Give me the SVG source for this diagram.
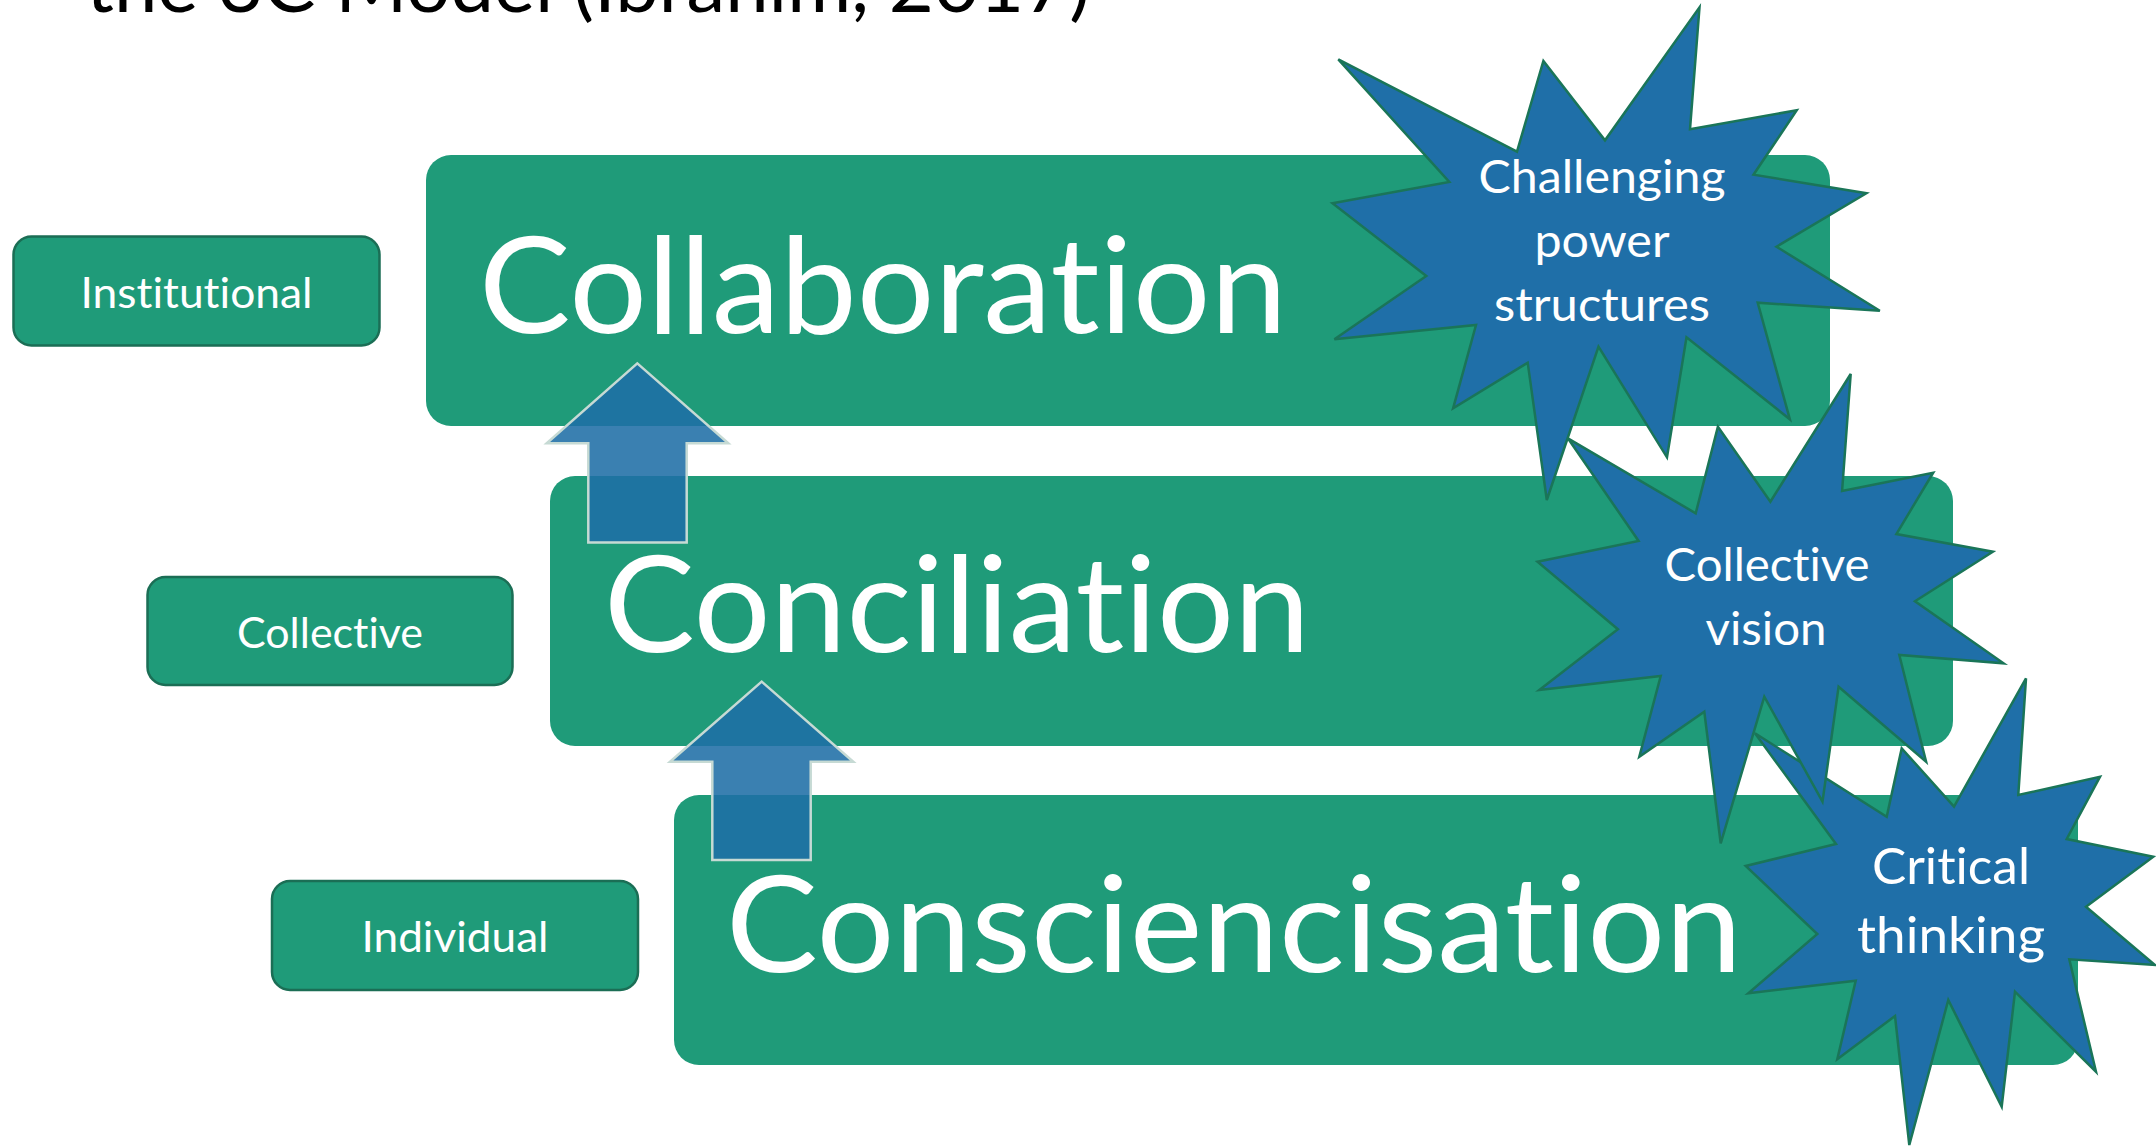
<svg xmlns="http://www.w3.org/2000/svg" width="2156" height="1146" viewBox="0 0 2156 1146">
<style>
.bg{fill:#ffffff}
.lvl{fill:#1f9b79}
.tag{fill:#1f9b79;stroke:#1b6e55;stroke-width:2.5}
.star{fill:#1f6fa8;stroke:#1a7558;stroke-width:2.5;stroke-linejoin:miter}
.arr{fill:#1f6ea6;fill-opacity:0.88;stroke:#c6dad4;stroke-width:2.5}
text{font-variant-ligatures:none;font-feature-settings:"liga" 0,"clig" 0,"dlig" 0}
.t{font-family:Lato,"Open Sans","Liberation Sans",sans-serif;fill:#ffffff}
.big{font-size:133px}
.sm{font-size:42px;text-anchor:middle}
.st{font-size:46px;text-anchor:middle}
.st3{font-size:50px;text-anchor:middle}
.title{font-family:Lato,"Open Sans","Liberation Sans",sans-serif;font-size:76px;font-weight:400;fill:#000000}
</style>
<rect class="bg" x="0" y="0" width="2156" height="1146"/>
<text class="title" x="86" y="12" textLength="1004" lengthAdjust="spacingAndGlyphs">the 3C Model (Ibrahim, 2017)</text>

<g id="level-collaboration">
<rect class="lvl" x="426" y="155" width="1404" height="271" rx="25" ry="25"/>
<text class="t big" x="479" y="333" textLength="808" lengthAdjust="spacingAndGlyphs">Collaboration</text>
</g>
<g id="level-conciliation">
<rect class="lvl" x="550" y="476" width="1403" height="270" rx="25" ry="25"/>
<text class="t big" x="604" y="652" textLength="706" lengthAdjust="spacingAndGlyphs">Conciliation</text>
</g>
<g id="level-conscientisation">
<rect class="lvl" x="674" y="795" width="1404" height="270" rx="25" ry="25"/>
<text class="t big" x="726" y="972" textLength="1016" lengthAdjust="spacingAndGlyphs">Consciencisation</text>
</g>

<g id="tag-institutional">
<rect class="tag" x="13.5" y="236.5" width="366" height="109" rx="18" ry="18"/>
<text class="t sm" x="196.5" y="308" textLength="232" lengthAdjust="spacingAndGlyphs">Institutional</text>
</g>
<g id="tag-collective">
<rect class="tag" x="147.5" y="577" width="365" height="108" rx="18" ry="18"/>
<text class="t sm" x="330" y="648" textLength="186" lengthAdjust="spacingAndGlyphs">Collective</text>
</g>
<g id="tag-individual">
<rect class="tag" x="272" y="881" width="366" height="109" rx="18" ry="18"/>
<text class="t sm" x="455" y="951.5" textLength="187" lengthAdjust="spacingAndGlyphs">Individual</text>
</g>

<g id="star-critical-thinking">
<polygon class="star" points="1755,733.3 1886.7,816.7 1901.7,748.3 1954,806.7 2026,678.3 2018.3,795 2100,776.7 2066.7,839 2153.3,856.7 2086,906.7 2155,965 2069.3,959.3 2096,1071.7 2015,991.7 2001.7,1106.7 1948.3,1000 1909.3,1145 1895,1016 1837.3,1059.3 1855.7,980.7 1748.3,993.3 1817.3,934 1745.7,866 1836,844"/>
<text class="t st3" x="1951" y="884" textLength="158" lengthAdjust="spacingAndGlyphs">Critical</text>
<text class="t st3" x="1951" y="953" textLength="188" lengthAdjust="spacingAndGlyphs">thinking</text>
</g>
<g id="star-collective-vision">
<polygon class="star" points="1567.9,438.3 1695.7,513.3 1717.9,426.7 1770.4,501.7 1850.7,374 1842.1,491 1933.2,472.7 1896.4,534 1992.9,551.7 1915,601.3 2003.6,663.3 1899.3,655 1926.1,761.7 1838.6,686.7 1822.5,801.7 1764.3,696.7 1720.7,843.3 1704.3,711.7 1639.3,756.7 1660.7,676 1539.3,690 1617.9,629.3 1537.5,561.7 1638.6,541"/>
<text class="t st" x="1767" y="580.5" textLength="205" lengthAdjust="spacingAndGlyphs">Collective</text>
<text class="t st" x="1766" y="645" textLength="121" lengthAdjust="spacingAndGlyphs">vision</text>
</g>
<g id="star-challenging">
<polygon class="star" points="1338.3,59.3 1517,151.7 1543.4,61 1605,140.3 1699.5,7.3 1690,129.3 1796.7,110.3 1753.5,174.7 1866.4,193.3 1776.5,246.7 1879.8,310.7 1757.7,302.7 1789.9,419.3 1686.5,337.3 1667,457.3 1598.5,346.7 1546.8,500 1527.7,362.7 1453.1,408.3 1476,325 1334.4,339.3 1426.3,276 1332.5,203.3 1449.3,182"/>
<text class="t st" x="1602" y="192.5" textLength="247" lengthAdjust="spacingAndGlyphs">Challenging</text>
<text class="t st" x="1602" y="256.5" textLength="135" lengthAdjust="spacingAndGlyphs">power</text>
<text class="t st" x="1602" y="320.5" textLength="216" lengthAdjust="spacingAndGlyphs">structures</text>
</g>

<g id="connectors">
<polygon class="arr" points="637.3,363.4 728.3,443.3 686.7,443.3 686.7,542.5 588.3,542.5 588.3,443.3 546.7,443.3"/>
<polygon class="arr" points="761.7,681.6 853.3,761.8 810.7,761.8 810.7,860 712.3,860 712.3,761.8 670,761.8"/>
</g>
</svg>
